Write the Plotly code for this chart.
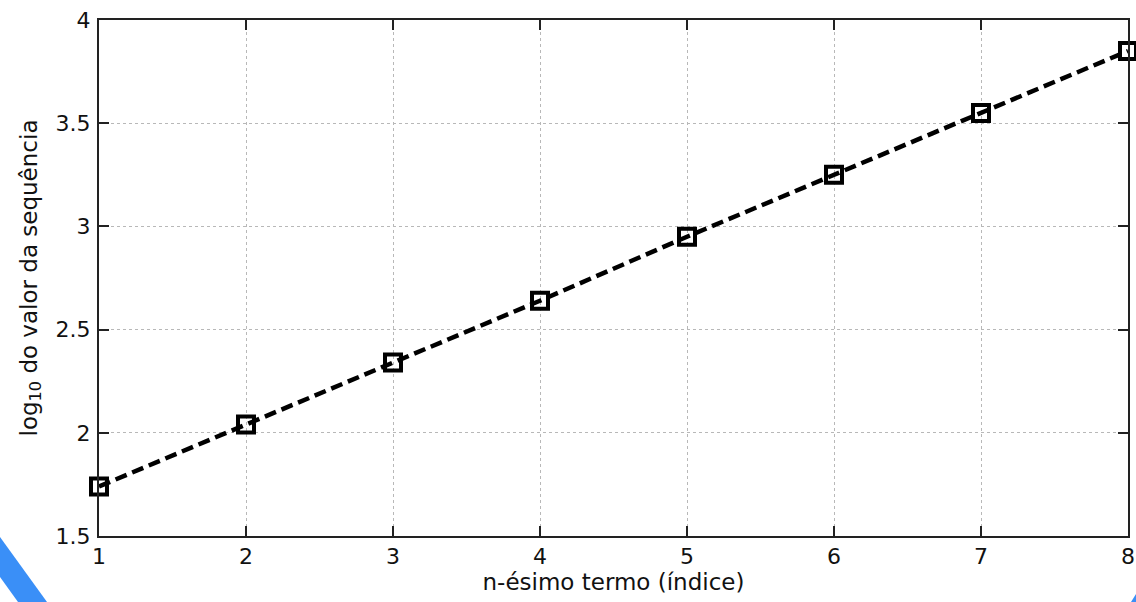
import plotly.graph_objects as go

indices = [1, 2, 3, 4, 5, 6, 7, 8]
log_values = [1.74, 2.04, 2.34, 2.64, 2.95, 3.25, 3.55, 3.85]
x_ticks = [1, 2, 3, 4, 5, 6, 7, 8]
y_ticks = [1.5, 2, 2.5, 3, 3.5, 4]
y_tick_labels = ["1.5", "2", "2.5", "3", "3.5", "4"]

W, H = 1136, 602
L, R, T, B = 99, 8, 20, 66
pw, ph = W - L - R, H - T - B

def px(x):
    return (x - L) / pw

def py(y):
    return (H - B - y) / ph

FONT = "DejaVu Sans, Liberation Sans, Arial"

fig = go.Figure()
fig.add_trace(go.Scatter(
    x=indices, y=log_values, mode="lines+markers",
    line=dict(color="black", width=4.5, dash="12px,6px"),
    marker=dict(symbol="square-open", size=16, color="black",
                line=dict(color="black", width=4)),
    cliponaxis=False, showlegend=False,
))

axis_common = dict(
    showline=True, linecolor="#222", linewidth=2, mirror="ticks",
    ticks="inside", ticklen=10, tickwidth=2, tickcolor="#222",
    showgrid=True, gridcolor="#b8b8b8", gridwidth=1, griddash="dot",
    zeroline=False, automargin=False, ticklabeloverflow="allow",
    tickfont=dict(family=FONT, size=22, color="#111"),
)

fig.update_layout(
    width=W, height=H,
    margin=dict(l=L, r=R, t=T, b=B),
    paper_bgcolor="white", plot_bgcolor="white",
    xaxis=dict(range=[1, 8], tickvals=x_ticks, ticklabelstandoff=0,
               title=dict(text="n-ésimo termo (índice)", standoff=2,
                          font=dict(family=FONT, size=23, color="#111")),
               **axis_common),
    yaxis=dict(range=[1.5, 4], tickvals=y_ticks, ticktext=y_tick_labels,
               ticklabelstandoff=2,
               title=dict(text="log<sub>10</sub> do valor da sequência", standoff=12,
                          font=dict(family=FONT, size=23, color="#111")),
               **axis_common),
)

# decorative blue band at bottom-left and tiny corner at bottom-right
band = [(0, 537), (47, 602), (18, 602), (0, 577)]
path = "M " + " L ".join(f"{px(a):.5f},{py(b):.5f}" for a, b in band) + " Z"
fig.add_shape(type="path", path=path, xref="paper", yref="paper",
              fillcolor="#3a8ff7", line=dict(width=0), layer="below")
corner = [(1136, 594), (1136, 602), (1131, 602)]
path2 = "M " + " L ".join(f"{px(a):.5f},{py(b):.5f}" for a, b in corner) + " Z"
fig.add_shape(type="path", path=path2, xref="paper", yref="paper",
              fillcolor="#3a8ff7", line=dict(width=0), layer="below")

fig.write_html("out.html", config={"displayModeBar": False},
               post_script="document.body.style.margin='0px';document.body.style.overflow='hidden';")
